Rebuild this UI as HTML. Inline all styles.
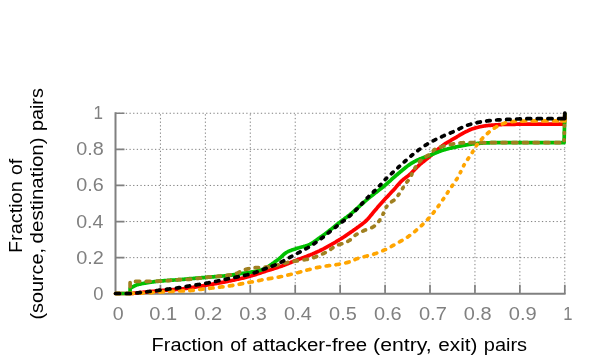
<!DOCTYPE html><html><head><meta charset="utf-8"><style>html,body{margin:0;padding:0;background:#fff}svg{display:block;will-change:transform}text{font-family:"Liberation Sans",sans-serif}</style></head><body>
<svg width="598" height="359" viewBox="0 0 598 359">
<rect width="598" height="359" fill="#fff"/>
<path d="M160.43 293.75 V113.25 M205.36 293.75 V113.25 M250.29 293.75 V113.25 M295.22 293.75 V113.25 M340.15 293.75 V113.25 M385.08 293.75 V113.25 M430.01 293.75 V113.25 M474.94 293.75 V113.25 M519.87 293.75 V113.25 M564.80 293.75 V113.25 M115.5 257.65 H564.8 M115.5 221.55 H564.8 M115.5 185.45 H564.8 M115.5 149.35 H564.8 M115.5 113.25 H564.8" stroke="#808080" stroke-width="1" stroke-dasharray="1.3 2.35" stroke-dashoffset="0.65" fill="none"/>
<path d="M115.5 112.35 V293.75 H565.6" stroke="#808080" stroke-width="2" fill="none"/>
<path d="M160.43 293.75 v-9 M205.36 293.75 v-9 M250.29 293.75 v-9 M295.22 293.75 v-9 M340.15 293.75 v-9 M385.08 293.75 v-9 M430.01 293.75 v-9 M474.94 293.75 v-9 M519.87 293.75 v-9 M564.80 293.75 v-9 M115.5 257.65 h9 M115.5 221.55 h9 M115.5 185.45 h9 M115.5 149.35 h9 M115.5 113.25 h9" stroke="#808080" stroke-width="1.7" fill="none"/>
<path d="M115.5 293.5 L131.2 293.5 L132.1 293.4 L133.0 293.3 L133.9 293.2 L134.8 293.1 L135.7 293.0 L136.6 293.0 L137.5 292.9 L138.4 292.8 L139.3 292.7 L140.2 292.6 L141.1 292.5 L142.0 292.4 L142.9 292.3 L143.8 292.2 L144.7 292.1 L145.6 292.1 L146.5 292.0 L147.4 291.9 L148.3 291.8 L149.2 291.7 L150.1 291.6 L151.0 291.5 L151.9 291.4 L152.8 291.4 L153.7 291.3 L154.6 291.2 L155.5 291.1 L156.4 291.0 L157.3 290.9 L158.2 290.8 L159.1 290.7 L160.0 290.7 L160.9 290.6 L161.8 290.5 L162.7 290.4 L163.6 290.3 L164.5 290.3 L165.4 290.2 L166.3 290.1 L167.2 290.1 L168.1 290.0 L169.0 290.0 L169.9 289.9 L170.8 289.9 L171.7 289.8 L172.6 289.7 L173.5 289.7 L174.4 289.6 L175.3 289.6 L176.2 289.5 L177.1 289.4 L178.0 289.4 L178.9 289.3 L179.7 289.2 L180.6 289.1 L181.5 289.0 L182.4 288.9 L183.3 288.8 L184.2 288.7 L185.1 288.5 L186.0 288.4 L186.9 288.3 L187.8 288.1 L188.7 288.0 L189.6 287.9 L190.5 287.7 L191.4 287.6 L192.3 287.5 L193.2 287.3 L194.1 287.2 L195.0 287.1 L195.9 286.9 L196.8 286.8 L197.7 286.6 L198.6 286.5 L199.5 286.4 L200.4 286.2 L201.3 286.1 L202.2 285.9 L203.1 285.8 L204.0 285.6 L204.9 285.5 L205.8 285.3 L206.7 285.1 L207.6 285.0 L208.5 284.8 L209.4 284.7 L210.3 284.5 L211.2 284.4 L212.1 284.2 L213.0 284.1 L213.9 283.9 L214.8 283.7 L215.7 283.6 L216.6 283.4 L217.5 283.3 L218.4 283.1 L219.3 282.9 L220.2 282.8 L221.1 282.6 L222.0 282.4 L222.9 282.3 L223.8 282.1 L224.7 281.9 L225.6 281.8 L226.5 281.6 L227.4 281.4 L228.3 281.2 L229.2 281.0 L230.1 280.9 L231.0 280.7 L231.9 280.5 L232.8 280.3 L233.7 280.1 L234.6 279.9 L235.5 279.7 L236.4 279.5 L237.3 279.3 L238.2 279.1 L239.1 278.9 L240.0 278.7 L240.9 278.5 L241.8 278.3 L242.7 278.1 L243.6 277.9 L244.4 277.7 L245.3 277.5 L246.2 277.2 L247.1 277.0 L248.0 276.8 L248.9 276.5 L249.8 276.3 L250.7 276.0 L251.6 275.8 L252.5 275.5 L253.4 275.3 L254.3 275.0 L255.2 274.7 L256.1 274.4 L257.0 274.1 L257.9 273.8 L258.8 273.5 L259.7 273.2 L260.6 272.9 L261.5 272.6 L262.4 272.3 L263.3 272.0 L264.2 271.7 L265.1 271.4 L266.0 271.1 L266.9 270.8 L267.8 270.5 L268.7 270.3 L269.6 270.0 L270.5 269.7 L271.4 269.4 L272.3 269.1 L273.2 268.9 L274.1 268.6 L275.0 268.3 L275.9 268.0 L276.8 267.7 L277.7 267.4 L278.6 267.1 L279.5 266.8 L280.4 266.5 L281.3 266.2 L282.2 265.9 L283.1 265.5 L284.0 265.2 L284.9 264.8 L285.8 264.5 L286.7 264.1 L287.6 263.7 L288.5 263.4 L289.4 263.0 L290.3 262.7 L291.2 262.3 L292.1 261.9 L293.0 261.6 L293.9 261.2 L294.8 260.8 L295.7 260.5 L296.6 260.1 L297.5 259.8 L298.4 259.4 L299.3 259.1 L300.2 258.7 L301.1 258.4 L302.0 258.1 L302.9 257.7 L303.8 257.4 L304.7 257.1 L305.6 256.7 L306.5 256.4 L307.4 256.1 L308.2 255.7 L309.1 255.3 L310.0 255.0 L310.9 254.6 L311.8 254.2 L312.7 253.9 L313.6 253.5 L314.5 253.1 L315.4 252.7 L316.3 252.3 L317.2 251.9 L318.1 251.5 L319.0 251.1 L319.9 250.7 L320.8 250.2 L321.7 249.8 L322.6 249.3 L323.5 248.9 L324.4 248.4 L325.3 247.9 L326.2 247.4 L327.1 246.9 L328.0 246.4 L328.9 245.9 L329.8 245.4 L330.7 244.9 L331.6 244.4 L332.5 243.8 L333.4 243.3 L334.3 242.8 L335.2 242.3 L336.1 241.7 L337.0 241.2 L337.9 240.7 L338.8 240.1 L339.7 239.5 L340.6 239.0 L341.5 238.4 L342.4 237.8 L343.3 237.3 L344.2 236.7 L345.1 236.1 L346.0 235.5 L346.9 234.9 L347.8 234.2 L348.7 233.6 L349.6 233.0 L350.5 232.4 L351.4 231.8 L352.3 231.2 L353.2 230.5 L354.1 229.9 L355.0 229.3 L355.9 228.6 L356.8 228.0 L357.7 227.3 L358.6 226.7 L359.5 226.0 L360.4 225.4 L361.3 224.7 L362.2 224.0 L363.1 223.3 L364.0 222.6 L364.9 221.8 L365.8 221.0 L366.7 220.1 L367.6 219.2 L368.5 218.2 L369.4 217.2 L370.3 216.1 L371.2 215.1 L372.1 214.0 L372.9 212.9 L373.8 211.8 L374.7 210.8 L375.6 209.7 L376.5 208.7 L377.4 207.6 L378.3 206.6 L379.2 205.6 L380.1 204.6 L381.0 203.6 L381.9 202.6 L382.8 201.6 L383.7 200.6 L384.6 199.6 L385.5 198.6 L386.4 197.6 L387.3 196.7 L388.2 195.7 L389.1 194.7 L390.0 193.8 L390.9 192.8 L391.8 191.8 L392.7 190.9 L393.6 189.9 L394.5 188.9 L395.4 187.9 L396.3 186.8 L397.2 185.8 L398.1 184.8 L399.0 183.8 L399.9 182.8 L400.8 181.8 L401.7 180.9 L402.6 180.1 L403.5 179.3 L404.4 178.6 L405.3 177.9 L406.2 177.2 L407.1 176.6 L408.0 175.9 L408.9 175.2 L409.8 174.4 L410.7 173.6 L411.6 172.7 L412.5 171.8 L413.4 170.9 L414.3 170.0 L415.2 169.0 L416.1 168.1 L417.0 167.2 L417.9 166.3 L418.8 165.5 L419.7 164.7 L420.6 163.9 L421.5 163.2 L422.4 162.4 L423.3 161.7 L424.2 161.0 L425.1 160.3 L426.0 159.6 L426.9 158.9 L427.8 158.1 L428.7 157.4 L429.6 156.7 L430.5 155.9 L431.4 155.2 L432.3 154.4 L433.2 153.6 L434.1 152.8 L435.0 152.0 L435.9 151.2 L436.7 150.4 L437.6 149.6 L438.5 148.8 L439.4 148.1 L440.3 147.3 L441.2 146.6 L442.1 145.9 L443.0 145.3 L443.9 144.6 L444.8 144.0 L445.7 143.4 L446.6 142.9 L447.5 142.3 L448.4 141.8 L449.3 141.3 L450.2 140.8 L451.1 140.2 L452.0 139.7 L452.9 139.2 L453.8 138.7 L454.7 138.2 L455.6 137.6 L456.5 137.1 L457.4 136.5 L458.3 136.0 L459.2 135.4 L460.1 134.9 L461.0 134.3 L461.9 133.8 L462.8 133.3 L463.7 132.8 L464.6 132.4 L465.5 131.9 L466.4 131.5 L467.3 131.1 L468.2 130.6 L469.1 130.2 L470.0 129.8 L470.9 129.4 L471.8 129.1 L472.7 128.8 L473.6 128.5 L474.5 128.2 L475.4 127.9 L476.3 127.7 L477.2 127.5 L478.1 127.3 L479.0 127.0 L479.9 126.8 L480.8 126.6 L481.7 126.5 L482.6 126.3 L483.5 126.1 L484.4 126.0 L485.3 125.8 L486.2 125.7 L487.1 125.6 L488.0 125.5 L488.9 125.4 L489.8 125.3 L490.7 125.3 L491.6 125.2 L492.5 125.1 L493.4 125.0 L494.3 125.0 L495.2 124.9 L496.1 124.9 L497.0 124.8 L497.9 124.8 L498.8 124.7 L499.7 124.7 L500.6 124.6 L501.4 124.6 L502.3 124.5 L503.2 124.5 L504.1 124.5 L505.0 124.5 L505.9 124.4 L506.8 124.4 L507.7 124.4 L508.6 124.4 L509.5 124.4 L510.4 124.3 L511.3 124.3 L512.2 124.3 L513.1 124.3 L514.0 124.3 L514.9 124.3 L515.8 124.2 L516.7 124.2 L517.6 124.2 L518.5 124.2 L519.4 124.2 L520.3 124.2 L521.2 124.2 L522.1 124.2 L523.0 124.2 L523.9 124.2 L524.8 124.2 L525.7 124.2 L526.6 124.2 L527.5 124.2 L528.4 124.2 L529.3 124.2 L530.2 124.2 L531.1 124.2 L532.0 124.2 L532.9 124.2 L533.8 124.2 L534.7 124.2 L535.6 124.2 L536.5 124.2 L537.4 124.2 L538.3 124.2 L539.2 124.2 L540.1 124.2 L541.0 124.2 L541.9 124.2 L542.8 124.2 L543.7 124.2 L544.6 124.2 L545.5 124.2 L546.4 124.2 L547.3 124.2 L548.2 124.2 L549.1 124.2 L550.0 124.2 L550.9 124.2 L551.8 124.2 L552.7 124.2 L553.6 124.2 L554.5 124.2 L555.4 124.2 L556.3 124.2 L557.2 124.2 L558.1 124.2 L559.0 124.2 L559.9 124.2 L560.8 124.2 L561.7 124.2 L562.6 124.2 L563.5 124.2 L564.4 124.2 L564.8 113.0" stroke="#ff0000" stroke-width="3.7" fill="none" stroke-linejoin="round"/>
<path d="M115.5 293.5 L130.1 293.5 L130.1 288.1 L131.0 287.7 L131.9 287.3 L132.8 286.9 L133.7 286.4 L134.6 285.9 L135.4 285.5 L136.3 285.1 L137.2 284.8 L138.1 284.6 L139.0 284.3 L139.9 284.1 L140.8 283.9 L141.7 283.7 L142.6 283.5 L143.5 283.4 L144.4 283.2 L145.3 283.1 L146.2 282.9 L147.1 282.8 L148.0 282.6 L148.9 282.5 L149.8 282.3 L150.7 282.2 L151.6 282.1 L152.5 282.0 L153.4 281.8 L154.3 281.7 L155.2 281.6 L156.1 281.5 L157.0 281.4 L157.9 281.3 L158.8 281.2 L159.7 281.1 L160.6 281.0 L161.5 280.9 L162.4 280.8 L163.3 280.8 L164.2 280.7 L165.1 280.6 L166.0 280.5 L166.9 280.5 L167.8 280.4 L168.7 280.4 L169.6 280.3 L170.5 280.2 L171.4 280.2 L172.3 280.1 L173.2 280.1 L174.1 280.0 L175.0 280.0 L175.9 279.9 L176.8 279.9 L177.7 279.8 L178.6 279.7 L179.5 279.7 L180.4 279.6 L181.3 279.5 L182.2 279.4 L183.1 279.3 L184.0 279.3 L184.9 279.2 L185.8 279.1 L186.7 279.0 L187.6 278.9 L188.5 278.8 L189.4 278.7 L190.3 278.7 L191.2 278.6 L192.1 278.5 L193.0 278.5 L193.9 278.4 L194.8 278.3 L195.7 278.2 L196.6 278.2 L197.5 278.1 L198.4 278.0 L199.2 277.9 L200.1 277.9 L201.0 277.8 L201.9 277.7 L202.8 277.6 L203.7 277.6 L204.6 277.5 L205.5 277.4 L206.4 277.3 L207.3 277.3 L208.2 277.2 L209.1 277.1 L210.0 277.1 L210.9 277.0 L211.8 276.9 L212.7 276.8 L213.6 276.8 L214.5 276.7 L215.4 276.6 L216.3 276.6 L217.2 276.5 L218.1 276.4 L219.0 276.3 L219.9 276.3 L220.8 276.2 L221.7 276.1 L222.6 276.0 L223.5 276.0 L224.4 275.9 L225.3 275.8 L226.2 275.7 L227.1 275.6 L228.0 275.5 L228.9 275.4 L229.8 275.3 L230.7 275.2 L231.6 275.1 L232.5 274.9 L233.4 274.8 L234.3 274.6 L235.2 274.5 L236.1 274.3 L237.0 274.2 L237.9 274.0 L238.8 273.9 L239.7 273.8 L240.6 273.6 L241.5 273.5 L242.4 273.4 L243.3 273.3 L244.2 273.2 L245.1 273.1 L246.0 272.9 L246.9 272.8 L247.8 272.7 L248.7 272.5 L249.6 272.4 L250.5 272.2 L251.4 272.1 L252.3 271.9 L253.2 271.8 L254.1 271.6 L255.0 271.5 L255.9 271.3 L256.8 271.1 L257.7 270.9 L258.6 270.7 L259.5 270.4 L260.4 270.2 L261.3 269.9 L262.2 269.6 L263.1 269.2 L263.9 268.9 L264.8 268.5 L265.7 268.1 L266.6 267.6 L267.5 267.1 L268.4 266.5 L269.3 265.9 L270.2 265.2 L271.1 264.6 L272.0 264.0 L272.9 263.3 L273.8 262.7 L274.7 262.0 L275.6 261.4 L276.5 260.7 L277.4 260.1 L278.3 259.4 L279.2 258.7 L280.1 257.9 L281.0 257.1 L281.9 256.2 L282.8 255.4 L283.7 254.5 L284.6 253.8 L285.5 253.1 L286.4 252.5 L287.3 252.0 L288.2 251.5 L289.1 251.1 L290.0 250.7 L290.9 250.4 L291.8 250.1 L292.7 249.8 L293.6 249.5 L294.5 249.2 L295.4 248.9 L296.3 248.6 L297.2 248.3 L298.1 248.0 L299.0 247.8 L299.9 247.5 L300.8 247.3 L301.7 247.0 L302.6 246.8 L303.5 246.6 L304.4 246.3 L305.3 246.1 L306.2 245.8 L307.1 245.5 L308.0 245.2 L308.9 244.8 L309.8 244.4 L310.7 243.9 L311.6 243.4 L312.5 242.8 L313.4 242.3 L314.3 241.6 L315.2 241.0 L316.1 240.4 L317.0 239.7 L317.9 239.0 L318.8 238.4 L319.7 237.7 L320.6 237.1 L321.5 236.5 L322.4 235.9 L323.3 235.2 L324.2 234.6 L325.1 233.9 L326.0 233.2 L326.9 232.6 L327.7 231.9 L328.6 231.2 L329.5 230.5 L330.4 229.8 L331.3 229.1 L332.2 228.4 L333.1 227.7 L334.0 227.0 L334.9 226.2 L335.8 225.5 L336.7 224.8 L337.6 224.0 L338.5 223.3 L339.4 222.6 L340.3 221.9 L341.2 221.2 L342.1 220.5 L343.0 219.8 L343.9 219.2 L344.8 218.5 L345.7 217.8 L346.6 217.2 L347.5 216.5 L348.4 215.8 L349.3 215.1 L350.2 214.4 L351.1 213.6 L352.0 212.9 L352.9 212.1 L353.8 211.3 L354.7 210.5 L355.6 209.7 L356.5 208.9 L357.4 208.1 L358.3 207.3 L359.2 206.5 L360.1 205.7 L361.0 204.9 L361.9 204.1 L362.8 203.3 L363.7 202.5 L364.6 201.7 L365.5 200.9 L366.4 200.1 L367.3 199.4 L368.2 198.6 L369.1 197.9 L370.0 197.1 L370.9 196.4 L371.8 195.7 L372.7 195.0 L373.6 194.3 L374.5 193.6 L375.4 192.9 L376.3 192.2 L377.2 191.5 L378.1 190.8 L379.0 190.1 L379.9 189.4 L380.8 188.7 L381.7 188.0 L382.6 187.3 L383.5 186.5 L384.4 185.8 L385.3 185.0 L386.2 184.3 L387.1 183.5 L388.0 182.7 L388.9 181.9 L389.8 181.1 L390.7 180.3 L391.5 179.5 L392.4 178.7 L393.3 177.9 L394.2 177.1 L395.1 176.3 L396.0 175.5 L396.9 174.8 L397.8 174.0 L398.7 173.2 L399.6 172.5 L400.5 171.7 L401.4 171.0 L402.3 170.2 L403.2 169.5 L404.1 168.8 L405.0 168.0 L405.9 167.3 L406.8 166.6 L407.7 165.9 L408.6 165.2 L409.5 164.6 L410.4 164.0 L411.3 163.4 L412.2 162.9 L413.1 162.3 L414.0 161.8 L414.9 161.4 L415.8 160.9 L416.7 160.4 L417.6 160.0 L418.5 159.6 L419.4 159.2 L420.3 158.8 L421.2 158.5 L422.1 158.1 L423.0 157.8 L423.9 157.4 L424.8 157.1 L425.7 156.8 L426.6 156.5 L427.5 156.2 L428.4 155.8 L429.3 155.5 L430.2 155.2 L431.1 154.8 L432.0 154.5 L432.9 154.1 L433.8 153.7 L434.7 153.3 L435.6 153.0 L436.5 152.6 L437.4 152.2 L438.3 151.9 L439.2 151.5 L440.1 151.2 L441.0 150.8 L441.9 150.5 L442.8 150.2 L443.7 149.9 L444.6 149.7 L445.5 149.4 L446.4 149.2 L447.3 149.0 L448.2 148.7 L449.1 148.5 L450.0 148.3 L450.9 148.1 L451.8 147.9 L452.7 147.7 L453.6 147.5 L454.5 147.3 L455.4 147.1 L456.2 146.9 L457.1 146.7 L458.0 146.5 L458.9 146.3 L459.8 146.1 L460.7 145.9 L461.6 145.8 L462.5 145.6 L463.4 145.4 L464.3 145.3 L465.2 145.1 L466.1 144.9 L467.0 144.8 L467.9 144.6 L468.8 144.5 L469.7 144.4 L470.6 144.2 L471.5 144.1 L472.4 144.0 L473.3 143.9 L474.2 143.8 L475.1 143.7 L476.0 143.6 L476.9 143.5 L477.8 143.4 L478.7 143.3 L479.6 143.3 L480.5 143.2 L481.4 143.1 L482.3 143.1 L483.2 143.0 L484.1 143.0 L485.0 142.9 L485.9 142.9 L486.8 142.8 L487.7 142.8 L488.6 142.8 L489.5 142.8 L490.4 142.7 L491.3 142.7 L492.2 142.7 L493.1 142.7 L494.0 142.7 L494.9 142.7 L495.8 142.6 L496.7 142.6 L497.6 142.6 L498.5 142.6 L499.4 142.6 L500.3 142.6 L501.2 142.6 L502.1 142.6 L503.0 142.6 L503.9 142.6 L504.8 142.6 L505.7 142.6 L506.6 142.6 L507.5 142.6 L508.4 142.6 L509.3 142.6 L510.2 142.6 L511.1 142.6 L512.0 142.6 L512.9 142.6 L513.8 142.6 L514.7 142.6 L515.6 142.6 L516.5 142.6 L517.4 142.6 L518.3 142.6 L519.2 142.6 L520.0 142.6 L520.9 142.6 L521.8 142.6 L522.7 142.6 L523.6 142.6 L524.5 142.6 L525.4 142.6 L526.3 142.6 L527.2 142.6 L528.1 142.6 L529.0 142.6 L529.9 142.6 L530.8 142.6 L531.7 142.6 L532.6 142.6 L533.5 142.6 L534.4 142.6 L535.3 142.6 L536.2 142.6 L537.1 142.6 L538.0 142.6 L538.9 142.6 L539.8 142.6 L540.7 142.6 L541.6 142.6 L542.5 142.6 L543.4 142.6 L544.3 142.6 L545.2 142.6 L546.1 142.6 L547.0 142.6 L547.9 142.6 L548.8 142.6 L549.7 142.6 L550.6 142.6 L551.5 142.6 L552.4 142.6 L553.3 142.6 L554.2 142.6 L555.1 142.6 L556.0 142.6 L556.9 142.6 L557.8 142.6 L558.7 142.6 L559.6 142.6 L560.5 142.6 L561.4 142.6 L562.3 142.6 L563.2 142.6 L564.1 142.6 L564.8 113.0" stroke="#00c000" stroke-width="3.7" fill="none" stroke-linejoin="round"/>
<path d="M115.5 293.5 L119.7 293.5M126.2 293.5 L130.1 293.5 L130.1 293.2M130.1 286.7 L130.1 282.5M135.5 281.4 L136.3 281.4 L137.2 281.4 L138.1 281.4 L139.0 281.4 L139.7 281.4M146.2 281.3 L146.2 281.3 L147.1 281.3 L148.0 281.3 L148.9 281.3 L149.8 281.3 L150.2 281.3M156.7 281.2 L157.0 281.2 L157.9 281.2 L158.8 281.1 L159.7 281.1 L160.6 281.1 L160.7 281.1M167.2 280.7 L167.8 280.7 L168.7 280.6 L169.6 280.5 L170.5 280.4 L170.6 280.4M177.1 279.8 L177.7 279.8 L178.6 279.7 L179.5 279.7 L180.4 279.6 L180.6 279.6M187.1 279.4 L187.6 279.4 L188.5 279.4 L189.4 279.3 L190.3 279.2 L190.7 279.2M197.2 278.5 L197.5 278.4 L198.4 278.3 L199.2 278.2 L200.1 278.1 L200.6 278.0M207.0 277.3 L207.3 277.2 L208.2 277.1 L209.1 277.1 L210.0 277.0 L210.5 276.9M217.0 276.4 L217.2 276.4 L218.1 276.3 L219.0 276.2 L219.9 276.1 L220.4 276.1M226.9 275.4 L227.1 275.3 L228.0 275.2 L228.9 275.1 L229.8 275.0 L230.3 274.9M236.6 273.3 L237.0 273.2 L237.9 272.9 L238.8 272.4 L239.6 272.0M245.5 269.5 L246.0 269.3 L246.9 269.1 L247.8 268.9 L248.7 268.7 L248.7 268.7M255.1 267.7 L255.9 267.7 L256.8 267.6 L257.7 267.5 L258.6 267.5 L258.6 267.5M265.1 267.1 L265.7 267.1 L266.6 267.0 L267.5 266.9 L268.4 266.8 L268.6 266.8M275.0 265.6 L275.6 265.5 L276.5 265.3 L277.4 265.0 L278.2 264.8M284.5 263.1 L284.6 263.1 L285.5 262.9 L286.4 262.7 L287.3 262.5 L287.7 262.4M294.1 261.3 L294.5 261.2 L295.4 261.1 L296.3 260.9 L297.2 260.8 L297.5 260.8M304.0 259.8 L304.4 259.8 L305.3 259.6 L306.2 259.5 L307.1 259.3 L307.4 259.3M313.6 257.6 L314.3 257.4 L315.2 257.1 L316.1 256.7 L316.6 256.5M322.6 253.9 L323.3 253.6 L324.2 253.2 L325.1 252.7 L325.2 252.6M330.8 249.3 L331.3 248.9 L332.2 248.2 L332.9 247.7M338.6 244.7 L339.4 244.5 L340.3 244.3 L341.2 244.0 L341.8 243.8M347.8 241.3 L348.4 241.0 L349.3 240.5 L350.2 239.8 L350.3 239.8M355.1 235.4 L355.6 235.0 L356.5 234.4 L357.0 234.1M362.8 231.1 L363.7 230.7 L364.6 230.3 L365.5 229.9 L365.6 229.9M371.7 227.6 L371.8 227.6 L372.7 227.1 L373.6 226.6 L374.3 226.1M378.8 221.4 L379.0 221.2 L379.9 220.0 L379.9 219.9M383.0 214.2 L383.4 213.2M386.1 207.3 L386.2 207.3 L386.9 206.2M391.6 201.8 L392.4 201.2 L393.3 200.7 L393.9 200.3M398.1 195.4 L398.7 194.4 L399.0 194.1M402.5 188.6 L403.2 187.4M406.9 182.0 L407.7 181.1 L408.1 180.6M411.5 175.1 L411.9 174.0M414.8 168.2 L414.9 168.1 L415.6 167.0M419.4 161.8 L420.3 161.0 L420.9 160.4M426.1 156.5 L426.6 156.2 L427.5 155.7 L428.4 155.2 L428.6 155.1M433.3 150.7 L433.8 150.2 L434.7 149.4 L434.8 149.4M440.8 146.9 L441.0 146.8 L441.9 146.6 L442.8 146.3 L443.7 146.1 L443.9 146.0M450.3 144.5 L450.9 144.4 L451.8 144.2 L452.7 144.1 L453.6 143.9 L453.6 143.9M460.0 143.0 L460.7 142.9 L461.6 142.8 L462.5 142.8 L463.4 142.7 L463.5 142.7M470.0 142.7 L470.6 142.7 L471.5 142.7 L472.4 142.7 L473.3 142.7 L474.2 142.7M480.7 142.7 L481.4 142.7 L482.3 142.7 L483.2 142.7 L484.1 142.7 L484.8 142.7M491.3 142.6 L492.2 142.6 L493.1 142.6 L494.0 142.6 L494.9 142.6 L495.5 142.6M502.0 142.6 L502.1 142.6 L503.0 142.6 L503.9 142.6 L504.8 142.6 L505.7 142.6 L506.2 142.6M512.7 142.6 L512.9 142.6 L513.8 142.6 L514.7 142.6 L515.6 142.6 L516.5 142.6 L516.9 142.6M523.4 142.6 L523.6 142.6 L524.5 142.6 L525.4 142.6 L526.3 142.6 L527.2 142.6 L527.6 142.6M534.1 142.6 L534.4 142.6 L535.3 142.6 L536.2 142.6 L537.1 142.6 L538.0 142.6 L538.3 142.6M544.8 142.6 L545.2 142.6 L546.1 142.6 L547.0 142.6 L547.9 142.6 L548.8 142.6 L549.0 142.6M555.5 142.6 L556.0 142.6 L556.9 142.6 L557.8 142.6 L558.7 142.6 L559.6 142.6 L559.7 142.6M564.1 140.5 L564.1 139.8M564.3 133.3 L564.3 132.6M564.5 126.1 L564.5 125.4M564.7 118.9 L564.7 118.2" stroke="#a08020" stroke-width="3.7" fill="none" stroke-linejoin="round" stroke-linecap="round"/>
<path d="M115.5 293.5 h4.2M129.0 293.5 L131.2 293.5 L132.1 293.5 L133.0 293.4 L133.2 293.4M139.7 293.2 L140.2 293.1 L141.1 293.1 L142.0 293.1 L142.9 293.0 L143.3 293.0M149.8 292.7 L150.1 292.6 L151.0 292.6 L151.9 292.6 L152.8 292.5 L153.2 292.5M159.7 292.1 L160.0 292.1 L160.9 292.0 L161.8 292.0 L162.7 291.9 L163.2 291.9M169.7 291.5 L169.9 291.5 L170.8 291.4 L171.7 291.4 L172.6 291.3 L173.2 291.3M179.7 291.0 L179.7 291.0 L180.6 291.0 L181.5 291.0 L182.4 290.9 L183.3 290.9 L183.4 290.9M189.8 290.6 L190.5 290.6 L191.4 290.5 L192.3 290.4 L193.2 290.3 L193.3 290.3M199.8 289.5 L200.4 289.4 L201.3 289.3 L202.2 289.2 L203.1 289.1 L203.2 289.1M209.6 288.3 L210.3 288.2 L211.2 288.1 L212.1 288.0 L213.0 287.9 L213.1 287.9M219.5 287.2 L220.2 287.1 L221.1 287.0 L222.0 286.9 L222.9 286.8 L223.0 286.8M229.4 285.9 L230.1 285.8 L231.0 285.7 L231.9 285.6 L232.8 285.4 L232.8 285.4M239.2 284.3 L240.0 284.1 L240.9 283.9 L241.8 283.8 L242.6 283.6M248.9 282.4 L249.8 282.2 L250.7 282.0 L251.6 281.9 L252.3 281.8M258.7 280.6 L258.8 280.5 L259.7 280.4 L260.6 280.2 L261.5 280.0 L262.0 279.9M268.4 278.8 L268.7 278.7 L269.6 278.6 L270.5 278.4 L271.4 278.3 L271.8 278.2M278.2 277.1 L278.6 277.1 L279.5 276.9 L280.4 276.7 L281.3 276.5 L281.6 276.5M287.9 275.1 L288.5 274.9 L289.4 274.7 L290.3 274.5 L291.2 274.3M297.5 272.7 L298.4 272.5 L299.3 272.2 L300.2 272.0 L300.7 271.8M306.9 270.1 L307.4 270.0 L308.2 269.8 L309.1 269.6 L310.0 269.3 L310.1 269.3M316.5 267.7 L317.2 267.6 L318.1 267.4 L319.0 267.2 L319.8 267.1M326.2 266.0 L326.2 266.0 L327.1 265.9 L328.0 265.8 L328.9 265.6 L329.6 265.5M336.0 264.7 L336.1 264.6 L337.0 264.5 L337.9 264.4 L338.8 264.2 L339.4 264.1M345.8 262.9 L346.0 262.8 L346.9 262.6 L347.8 262.4 L348.7 262.1 L349.1 262.0M355.0 259.5 L355.9 259.1 L356.8 258.8 L357.7 258.5 L357.9 258.4M364.1 256.7 L364.9 256.5 L365.8 256.3 L366.7 256.1 L367.4 255.9M373.7 254.2 L373.8 254.1 L374.7 253.8 L375.6 253.5 L376.5 253.2 L376.7 253.1M382.8 250.7 L382.8 250.7 L383.7 250.3 L384.6 249.9 L385.5 249.5 L385.6 249.5M391.3 246.5 L391.8 246.2 L392.7 245.7 L393.6 245.2 L393.8 245.1M399.5 241.9 L399.9 241.7 L400.8 241.2 L401.7 240.7 L402.0 240.5M407.5 237.1 L408.0 236.8 L408.9 236.1 L409.6 235.6M414.7 231.6 L415.2 231.2 L416.1 230.4 L416.5 230.0M421.3 225.7 L421.5 225.6 L422.4 224.7 L422.9 224.2M427.5 219.6 L427.8 219.3 L428.7 218.3 L428.9 218.1M433.1 213.1 L433.2 213.0 L434.1 211.9 L434.2 211.7M438.1 206.5 L438.5 206.0 L439.1 205.2M442.8 199.8 L443.0 199.5 L443.7 198.5M447.3 193.1 L447.5 192.7 L448.1 191.8M451.8 186.4 L452.0 186.0 L452.6 185.1M456.3 179.8 L456.5 179.5 L457.2 178.4M460.3 172.7 L460.8 171.7M463.6 165.8 L463.7 165.5 L464.2 164.7M467.7 159.3 L468.2 158.6 L468.7 157.9M472.3 152.5 L472.7 151.8 L473.0 151.3M476.3 145.7 L476.3 145.7 L477.2 144.5 L477.2 144.4M481.4 139.4 L481.7 139.1 L482.6 138.2 L482.7 138.0M487.4 133.5 L488.0 133.0 L488.9 132.2 L489.1 132.0M494.3 128.1 L495.2 127.5 L496.1 127.0 L496.7 126.7M502.5 123.9 L503.2 123.6 L504.1 123.3 L505.0 122.9 L505.4 122.8M511.8 121.6 L512.2 121.6 L513.1 121.5 L514.0 121.4 L514.9 121.4 L515.3 121.3M521.7 121.1 L522.1 121.1 L523.0 121.1 L523.9 121.0 L524.8 121.0 L525.7 121.0M532.2 120.9 L532.9 120.9 L533.8 120.9 L534.7 120.9 L535.6 120.9 L536.3 120.9M542.8 120.9 L543.7 120.9 L544.6 120.9 L545.5 120.9 L546.4 120.9 L547.0 120.9M553.5 120.9 L553.6 120.9 L554.5 120.9 L555.4 120.9 L556.3 120.9 L557.2 120.9 L557.7 120.9M564.2 120.9 L564.4 120.9 L564.6 116.9M561.8 120.9 H564.8 V115.7" stroke="#ffa500" stroke-width="3.7" fill="none" stroke-linejoin="round" stroke-linecap="round"/>
<path d="M115.5 293.5 L119.7 293.5M126.2 293.5 L130.4 293.5M136.9 292.9 L137.5 292.9 L138.4 292.8 L139.3 292.7 L140.2 292.6 L140.3 292.5M146.8 291.8 L147.4 291.7 L148.3 291.6 L149.2 291.5 L150.1 291.4 L150.2 291.4M156.7 290.6 L157.3 290.5 L158.2 290.4 L159.1 290.2 L160.0 290.1 L160.1 290.1M166.5 289.3 L167.2 289.2 L168.1 289.1 L169.0 289.0 L169.9 288.9 L170.0 288.9M176.4 288.0 L177.1 288.0 L178.0 287.8 L178.9 287.7 L179.7 287.6 L179.8 287.6M186.2 286.5 L186.9 286.3 L187.8 286.2 L188.7 286.0 L189.6 285.9M196.0 284.9 L196.8 284.8 L197.7 284.6 L198.6 284.5 L199.4 284.4M205.8 283.3 L206.7 283.1 L207.6 283.0 L208.5 282.8 L209.2 282.7M215.5 281.4 L215.7 281.4 L216.6 281.2 L217.5 281.0 L218.4 280.8 L218.9 280.7M225.2 279.4 L225.6 279.3 L226.5 279.1 L227.4 278.9 L228.3 278.7 L228.5 278.7M234.9 277.4 L235.5 277.3 L236.4 277.1 L237.3 276.9 L238.2 276.7 L238.2 276.7M244.6 275.4 L245.3 275.2 L246.2 275.0 L247.1 274.8 L247.9 274.6M254.1 272.8 L254.3 272.8 L255.2 272.5 L256.1 272.2 L257.0 271.8 L257.2 271.8M263.2 269.4 L263.3 269.4 L264.2 269.1 L265.1 268.7 L266.0 268.4 L266.1 268.3M272.2 266.1 L272.3 266.0 L273.2 265.7 L274.1 265.4 L275.0 265.0 L275.2 264.9M281.1 262.2 L281.3 262.1 L282.2 261.6 L283.1 261.1 L283.6 260.8M289.3 257.6 L289.4 257.6 L290.3 257.1 L291.2 256.6 L291.8 256.3M297.6 253.3 L298.4 252.8 L299.3 252.4 L300.1 251.9M305.8 248.8 L306.5 248.5 L307.4 248.0 L308.2 247.5 L308.3 247.4M313.8 243.9 L314.5 243.4 L315.4 242.8 L315.9 242.4M321.2 238.6 L321.7 238.2 L322.6 237.5 L323.2 237.1M328.2 233.0 L328.9 232.5 L329.8 231.8 L330.1 231.5M335.2 227.5 L335.2 227.4 L336.1 226.7 L337.0 226.0 L337.0 226.0M342.1 221.9 L342.4 221.7 L343.3 221.1 L344.1 220.5M349.2 216.4 L349.6 216.1 L350.5 215.3 L350.9 214.9M355.6 210.4 L355.9 210.1 L356.8 209.1 L357.0 208.9M361.5 204.1 L362.2 203.4 L362.8 202.7M367.3 197.9 L367.6 197.7 L368.5 196.8 L368.7 196.5M373.4 192.0 L373.8 191.5 L374.7 190.7 L375.0 190.5M379.5 185.8 L380.1 185.2 L380.9 184.4M385.2 179.5 L385.5 179.1 L386.4 178.3 L386.6 178.1M391.4 173.7 L391.8 173.3 L392.7 172.5 L393.1 172.1M397.9 167.7 L398.1 167.5 L399.0 166.7 L399.5 166.2M404.3 161.9 L404.4 161.8 L405.3 161.0 L406.0 160.4M410.9 156.1 L411.6 155.5 L412.5 154.8 L412.7 154.6M417.8 150.6 L417.9 150.5 L418.8 149.8 L419.7 149.2 L419.8 149.1M425.2 145.4 L426.0 144.9 L426.9 144.4 L427.4 144.0M433.1 140.8 L433.2 140.8 L434.1 140.4 L435.0 139.9 L435.7 139.5M441.6 136.8 L442.1 136.5 L443.0 136.1 L443.9 135.7 L444.3 135.5M450.3 133.0 L451.1 132.6 L452.0 132.2 L452.9 131.9 L453.1 131.8M459.0 129.0 L459.2 128.9 L460.1 128.4 L461.0 128.0 L461.6 127.7M467.6 125.2 L468.2 125.0 L469.1 124.7 L470.0 124.5 L470.7 124.2M477.0 122.7 L477.2 122.6 L478.1 122.4 L479.0 122.2 L479.9 122.1 L480.3 122.0M486.7 121.0 L487.1 120.9 L488.0 120.8 L488.9 120.7 L489.8 120.6 L490.2 120.6M496.6 120.0 L497.0 120.0 L497.9 119.9 L498.8 119.9 L499.7 119.8 L500.1 119.8M506.6 119.4 L506.8 119.4 L507.7 119.4 L508.6 119.3 L509.5 119.3 L510.1 119.3M516.6 119.0 L516.7 119.0 L517.6 119.0 L518.5 119.0 L519.4 118.9 L520.3 118.9 L520.4 118.9M526.8 118.7 L527.5 118.7 L528.4 118.7 L529.3 118.7 L530.2 118.6 L530.7 118.6M537.2 118.6 L537.4 118.6 L538.3 118.6 L539.2 118.6 L540.1 118.6 L541.0 118.6 L541.4 118.6M547.9 118.6 L548.2 118.6 L549.1 118.6 L550.0 118.6 L550.9 118.6 L551.8 118.6 L552.1 118.6M558.6 118.6 L559.0 118.6 L559.9 118.6 L560.8 118.6 L561.7 118.6 L562.6 118.6 L562.8 118.6M564.7 113.7 L564.8 113.0M560.8 118.6 H564.8 V113.0" stroke="#000000" stroke-width="3.7" fill="none" stroke-linejoin="round" stroke-linecap="round"/>
<text x="93.35" y="299.7" font-size="17.8" fill="#808080" textLength="10.22" lengthAdjust="spacingAndGlyphs">0</text>
<text x="76.20" y="263.6" font-size="17.8" fill="#808080" textLength="27.72" lengthAdjust="spacingAndGlyphs">0.2</text>
<text x="76.21" y="227.5" font-size="17.8" fill="#808080" textLength="27.30" lengthAdjust="spacingAndGlyphs">0.4</text>
<text x="76.21" y="191.4" font-size="17.8" fill="#808080" textLength="27.51" lengthAdjust="spacingAndGlyphs">0.6</text>
<text x="76.21" y="155.3" font-size="17.8" fill="#808080" textLength="27.51" lengthAdjust="spacingAndGlyphs">0.8</text>
<text x="93.41" y="119.2" font-size="17.8" fill="#808080" textLength="9.48" lengthAdjust="spacingAndGlyphs">1</text>
<text x="112.81" y="320" font-size="17.8" fill="#808080" textLength="10.90" lengthAdjust="spacingAndGlyphs">0</text>
<text x="149.33" y="320" font-size="17.8" fill="#808080" textLength="27.93" lengthAdjust="spacingAndGlyphs">0.1</text>
<text x="194.26" y="320" font-size="17.8" fill="#808080" textLength="27.93" lengthAdjust="spacingAndGlyphs">0.2</text>
<text x="239.19" y="320" font-size="17.8" fill="#808080" textLength="27.72" lengthAdjust="spacingAndGlyphs">0.3</text>
<text x="284.13" y="320" font-size="17.8" fill="#808080" textLength="27.51" lengthAdjust="spacingAndGlyphs">0.4</text>
<text x="329.05" y="320" font-size="17.8" fill="#808080" textLength="27.72" lengthAdjust="spacingAndGlyphs">0.5</text>
<text x="373.98" y="320" font-size="17.8" fill="#808080" textLength="27.72" lengthAdjust="spacingAndGlyphs">0.6</text>
<text x="418.91" y="320" font-size="17.8" fill="#808080" textLength="27.93" lengthAdjust="spacingAndGlyphs">0.7</text>
<text x="463.84" y="320" font-size="17.8" fill="#808080" textLength="27.72" lengthAdjust="spacingAndGlyphs">0.8</text>
<text x="508.77" y="320" font-size="17.8" fill="#808080" textLength="27.93" lengthAdjust="spacingAndGlyphs">0.9</text>
<text x="563.24" y="320" font-size="17.8" fill="#808080" textLength="9.23" lengthAdjust="spacingAndGlyphs">1</text>
<text x="151.61" y="351.1" font-size="18.3" fill="#000" textLength="72.01" lengthAdjust="spacingAndGlyphs">Fraction</text>
<text x="230.23" y="351.1" font-size="18.3" fill="#000" textLength="16.13" lengthAdjust="spacingAndGlyphs">of</text>
<text x="252.38" y="351.1" font-size="18.3" fill="#000" textLength="114.76" lengthAdjust="spacingAndGlyphs">attacker-free</text>
<text x="373.13" y="351.1" font-size="18.3" fill="#000" textLength="58.64" lengthAdjust="spacingAndGlyphs">(entry,</text>
<text x="438.27" y="351.1" font-size="18.3" fill="#000" textLength="39.13" lengthAdjust="spacingAndGlyphs">exit)</text>
<text x="483.80" y="351.1" font-size="18.3" fill="#000" textLength="43.30" lengthAdjust="spacingAndGlyphs">pairs</text>
<text transform="translate(22.3 253.09) rotate(-90)" font-size="18.3" fill="#000" textLength="71.81" lengthAdjust="spacingAndGlyphs">Fraction</text>
<text transform="translate(22.3 174.97) rotate(-90)" font-size="18.3" fill="#000" textLength="16.13" lengthAdjust="spacingAndGlyphs">of</text>
<text transform="translate(43.3 319.59) rotate(-90)" font-size="18.3" fill="#000" textLength="71.63" lengthAdjust="spacingAndGlyphs">(source,</text>
<text transform="translate(43.3 243.42) rotate(-90)" font-size="18.3" fill="#000" textLength="106.01" lengthAdjust="spacingAndGlyphs">destination)</text>
<text transform="translate(43.3 131.09) rotate(-90)" font-size="18.3" fill="#000" textLength="42.98" lengthAdjust="spacingAndGlyphs">pairs</text>
</svg></body></html>
